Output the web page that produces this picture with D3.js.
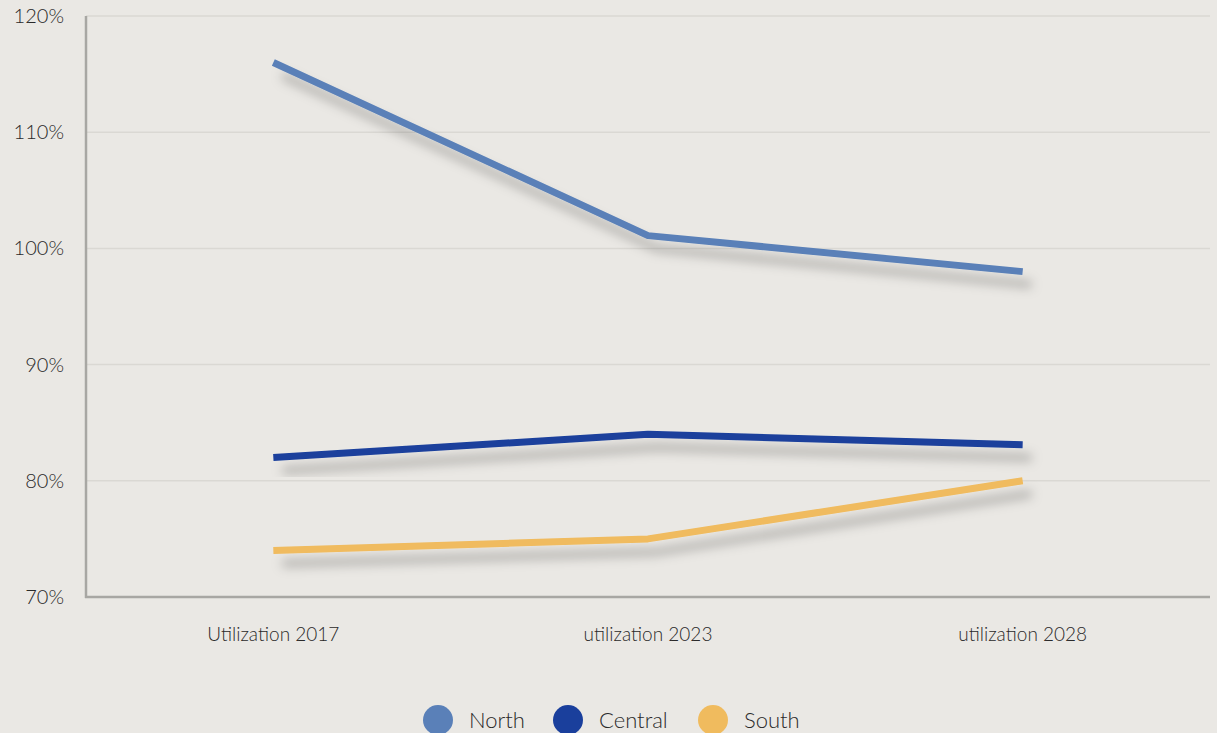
<!DOCTYPE html>
<html><head><meta charset="utf-8">
<script src="https://cdn.jsdelivr.net/npm/d3@7"></script>
<style>
html,body{margin:0;padding:0;background:#eae8e4;}
svg{display:block;font-family:Lato,"Open Sans",sans-serif;}
</style></head>
<body>
<svg id="c" width="1217" height="733"></svg>
<script>
const categories = ["Utilization 2017", "utilization 2023", "utilization 2028"];
const seriesNames = ["North", "Central", "South"];
const north = [116, 101.1, 98];
const central = [82, 84, 83.1];
const south = [74, 75, 80];
const yTicks = [70, 80, 90, 100, 110, 120];
const colors = ["#5a80b8", "#1a3f9c", "#f0bb5e"];

(function(){
const series = [north, central, south];
const svg = d3.select("#c");
const W = 1217, H = 733;
const mLeft = 86, mRight = 1210, mTop = 16, mBottom = 597;

svg.append("rect").attr("width", W).attr("height", H).attr("fill", "#eae8e4");

const defs = svg.append("defs");
const f = defs.append("filter").attr("id", "sh").attr("x", "-10%").attr("y", "-40%").attr("width", "130%").attr("height", "220%");
f.append("feDropShadow").attr("dx", 9).attr("dy", 13).attr("stdDeviation", 5.5).attr("flood-color", "#000").attr("flood-opacity", 0.26);

const x = d3.scaleBand().domain(categories).range([mLeft, mRight]);
const y = d3.scaleLinear().domain([70, 120]).range([mBottom, mTop]);

// grid
svg.append("g").selectAll("line").data(yTicks.slice(1)).join("line")
  .attr("x1", mLeft).attr("x2", mRight)
  .attr("y1", d => y(d)).attr("y2", d => y(d))
  .attr("stroke", "#dad8d3").attr("stroke-width", 1.5);

// y axis labels
const yAxis = d3.axisLeft(y).tickValues(yTicks).tickFormat(d => d + "%").tickSize(0).tickPadding(22);
const ya = svg.append("g").attr("transform", `translate(${mLeft},0)`).call(yAxis);
ya.select(".domain").remove();
ya.selectAll("text").attr("font-size", 20).attr("fill", "#2a2a2a").attr("font-weight", 300).attr("font-family", "Lato, sans-serif");

// x axis
const xAxis = d3.axisBottom(x).tickSize(0).tickPadding(31);
const xa = svg.append("g").attr("transform", `translate(0,${mBottom})`).call(xAxis);
xa.select(".domain").remove();
xa.selectAll("text").attr("font-size", 19).attr("fill", "#2a2a2a").attr("font-weight", 300).attr("font-family", "Lato, sans-serif");

// axis lines
svg.append("line").attr("x1", mLeft).attr("x2", mLeft).attr("y1", mTop).attr("y2", mBottom + 1)
  .attr("stroke", "#a8a7a3").attr("stroke-width", 2.5);
svg.append("line").attr("x1", mLeft - 1).attr("x2", mRight).attr("y1", mBottom).attr("y2", mBottom)
  .attr("stroke", "#a8a7a3").attr("stroke-width", 2.5);

const line = d3.line().x((d, i) => x(categories[i]) + x.bandwidth() / 2).y(d => y(d));

svg.append("g").selectAll("path").data(series).join("path")
  .attr("d", d => line(d))
  .attr("fill", "none")
  .attr("stroke", (d, i) => colors[i])
  .attr("stroke-width", 7)
  .attr("stroke-linejoin", "round")
  .attr("filter", "url(#sh)");

// legend
const legendX = [438, 568, 713];
const lg = svg.append("g");
seriesNames.forEach((n, i) => {
  lg.append("circle").attr("cx", legendX[i]).attr("cy", 720).attr("r", 15).attr("fill", colors[i]);
  lg.append("text").attr("x", legendX[i] + 31).attr("y", 728).text(n)
    .attr("font-size", 22).attr("fill", "#2a2a2a").attr("font-weight", 300).attr("font-family", "Lato, sans-serif");
});
})();
</script>
</body></html>
